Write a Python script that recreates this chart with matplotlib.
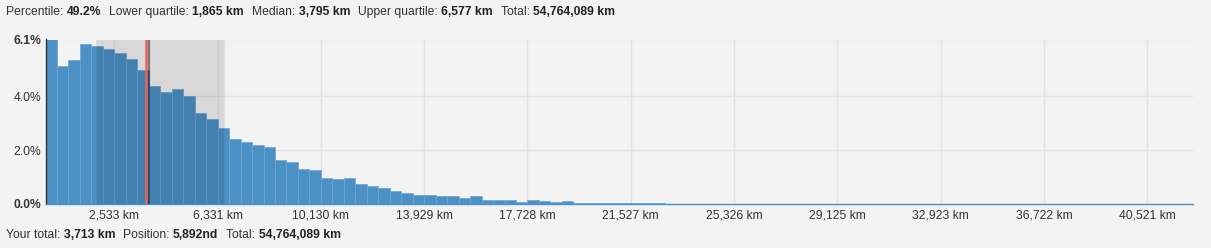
import numpy as np
import matplotlib
matplotlib.use("Agg")
import matplotlib.pyplot as plt

plt.rcParams['font.family'] = ['Liberation Sans', 'DejaVu Sans']

# histogram of totals, share of people per bin (%)
bin_width = 422.08
share = [6.10, 5.13, 5.35, 5.95, 5.87, 5.76, 5.60, 5.39, 4.98, 4.36,
         4.15, 4.26, 4.00, 3.37, 3.14, 2.83, 2.41, 2.29, 2.19, 2.10,
         1.63, 1.54, 1.28, 1.26, 0.98, 0.93, 0.96, 0.73, 0.66, 0.61,
         0.47, 0.39, 0.35, 0.35, 0.31, 0.31, 0.21, 0.30, 0.16, 0.16,
         0.14, 0.09, 0.14, 0.11, 0.07, 0.10, 0.05, 0.02, 0.02, 0.02,
         0.04, 0.02, 0.02, 0.02, 0.01, 0.01, 0.01, 0.01, 0.01, 0.01,
         0.01, 0.01, 0.01, 0.01, 0.01, 0.01, 0.005, 0.005, 0.005, 0.005,
         0.005, 0.005, 0.005, 0.005, 0.005, 0.005, 0.005, 0.005, 0.005, 0.005,
         0.005, 0.005, 0.005, 0.005, 0.005, 0.005, 0.005, 0.005, 0.005, 0.005,
         0.005, 0.005, 0.005, 0.005, 0.005, 0.005, 0.005, 0.005, 0.005, 0.005]

tick_km = [2533, 6331, 10130, 13929, 17728, 21527, 25326, 29125, 32923, 36722, 40521]
y_ticks = [0.0, 2.0, 4.0, 6.1]

lower_quartile = 1865
median = 3795
upper_quartile = 6577
your_total = 3713

top_parts = [("Percentile: ", False), ("49.2%", True),
             ("Lower quartile: ", False), ("1,865 km", True),
             ("Median: ", False), ("3,795 km", True),
             ("Upper quartile: ", False), ("6,577 km", True),
             ("Total: ", False), ("54,764,089 km", True)]
bottom_parts = [("Your total: ", False), ("3,713 km", True),
                ("Position: ", False), ("5,892nd", True),
                ("Total: ", False), ("54,764,089 km", True)]

bg = '#f3f3f3'
bar_color = '#4b91c5'
text_color = '#333333'

fig = plt.figure(figsize=(12.11, 2.48), dpi=100, facecolor=bg)
ax = fig.add_axes([45.5 / 1211, 1 - 204 / 248, 1147.5 / 1211, 164.5 / 248])
ax.set_facecolor(bg)

edges = np.arange(len(share)) * bin_width
ax.bar(edges, share, width=bin_width, align='edge', color=bar_color,
       edgecolor='#6ea6d3', linewidth=0.5, zorder=2)

# interquartile box, median and own position
ax.axvspan(lower_quartile, upper_quartile, ymin=0, ymax=1, facecolor='black',
           alpha=0.11, edgecolor='#a8a8a8', linewidth=1, zorder=3)
ax.axvline(median, color='black', alpha=0.45, linewidth=1.5, zorder=4)
ax.axvline(your_total, color='#e8605c', linewidth=1.8, zorder=5)

ax.set_xlim(0, len(share) * bin_width)
ax.set_ylim(0, max(y_ticks))

ax.set_xticks(tick_km)
ax.set_xticklabels([f"{v:,} km" for v in tick_km])
ax.set_yticks(y_ticks)
ax.set_yticklabels([f"{v:.1f}%" for v in y_ticks])
for i in (0, -1):
    ax.get_yticklabels()[i].set_fontweight('bold')
    ax.get_yticklabels()[i].set_color('#111111')

ax.tick_params(axis='both', length=0, labelsize=8.7, colors=text_color)
ax.tick_params(axis='x', pad=4)
ax.tick_params(axis='y', pad=3)
ax.grid(True, color='#e3e3e3', linewidth=1, zorder=0)
ax.set_axisbelow(True)

for side in ('top', 'right'):
    ax.spines[side].set_visible(False)
ax.spines['left'].set_color('#333333')
ax.spines['left'].set_linewidth(1)
ax.spines['bottom'].set_color(bar_color)
ax.spines['bottom'].set_linewidth(1)


def rich_line(x_px, y_px, parts, gap_px=8):
    renderer = fig.canvas.get_renderer()
    x = x_px
    for label, bold in parts:
        t = fig.text(x / 1211, 1 - y_px / 248, label, fontsize=8.7,
                     fontweight='bold' if bold else 'normal',
                     color='#222222' if bold else text_color, va='center')
        w = t.get_window_extent(renderer).width
        x += w + (gap_px if bold else 0)


rich_line(6, 12, top_parts)
rich_line(6, 235, bottom_parts)

fig.savefig('out.png', dpi=100, facecolor=bg)
